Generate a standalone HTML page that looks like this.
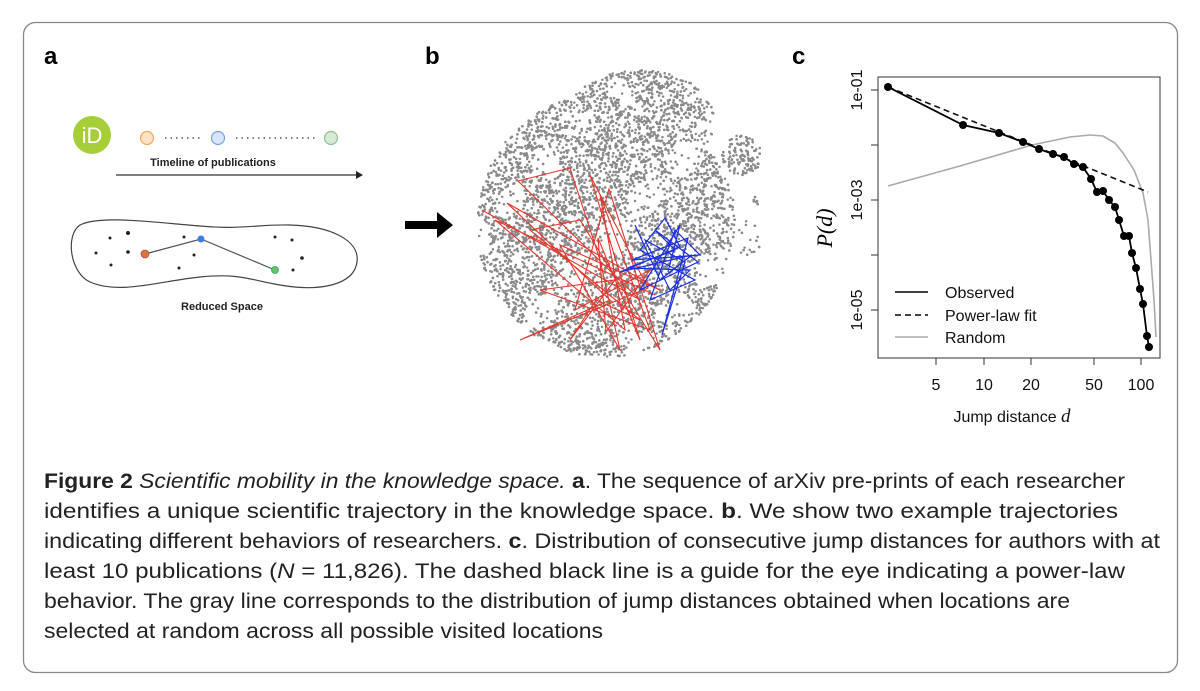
<!DOCTYPE html>
<html><head><meta charset="utf-8"><style>
html,body{margin:0;padding:0;background:#fff;}
svg{display:block;}
</style></head><body>
<svg id="s" width="1200" height="691" viewBox="0 0 1200 691" xmlns="http://www.w3.org/2000/svg" font-family="Liberation Sans, sans-serif">
<rect x="23.5" y="22.5" width="1154" height="650" rx="12" fill="#fff" stroke="#888" stroke-width="1.3"/>
<text x="44" y="64" font-size="24" font-weight="bold">a</text>
<text x="425" y="64" font-size="24" font-weight="bold">b</text>
<text x="792" y="64" font-size="24" font-weight="bold">c</text>

<!-- panel a -->
<circle cx="92" cy="135" r="19" fill="#a6ce39"/>
<text x="92" y="143" font-size="22" fill="#fff" text-anchor="middle">iD</text>
<circle cx="147" cy="138" r="6.5" fill="#fde2c4" stroke="#f0a860" stroke-width="1.2"/>
<circle cx="218" cy="138" r="6.5" fill="#d8e6fb" stroke="#7aa2e0" stroke-width="1.2"/>
<circle cx="331" cy="138" r="6.5" fill="#d6ead6" stroke="#8fc08f" stroke-width="1.2"/>
<line x1="165" y1="138" x2="202" y2="138" stroke="#555" stroke-width="1.6" stroke-dasharray="1.5,4"/>
<line x1="236" y1="138" x2="315" y2="138" stroke="#555" stroke-width="1.6" stroke-dasharray="1.5,4"/>
<text x="213" y="166" font-size="11" font-weight="bold" text-anchor="middle" fill="#222">Timeline of publications</text>
<line x1="116" y1="175" x2="358" y2="175" stroke="#333" stroke-width="1.3"/>
<path d="M356,171 L363,175 L356,179 Z" fill="#222"/>
<path d="M80,225 C100,215 150,222 200,226 C240,230 260,224 290,225 C330,226 360,240 357,262 C354,285 320,292 280,285 C250,280 240,273 200,277 C160,281 120,295 90,282 C70,273 65,235 80,225 Z" fill="none" stroke="#444" stroke-width="1.2"/>
<g fill="#222">
<circle cx="110" cy="238" r="1.5"/><circle cx="128" cy="233" r="2"/><circle cx="96" cy="253" r="1.5"/><circle cx="128" cy="252" r="1.8"/><circle cx="111" cy="265" r="1.5"/><circle cx="184" cy="237" r="1.5"/><circle cx="194" cy="255" r="1.5"/><circle cx="179" cy="268" r="1.5"/><circle cx="275" cy="237" r="1.5"/><circle cx="292" cy="240" r="1.5"/><circle cx="302" cy="258" r="1.8"/><circle cx="293" cy="270" r="1.5"/>
</g>
<polyline points="145,254 201,239 275,270" fill="none" stroke="#555" stroke-width="1.2"/>
<circle cx="145" cy="254" r="4" fill="#d9743a" stroke="#a55" stroke-width="0.8"/>
<circle cx="201" cy="239" r="3.5" fill="#3d7fe0"/>
<circle cx="275" cy="270" r="3.5" fill="#6cbf6c" stroke="#2a6" stroke-width="0.8"/>
<text x="222" y="310" font-size="11" font-weight="bold" text-anchor="middle" fill="#222">Reduced Space</text>

<!-- panel b -->
<path d="M405,221 H437 V212 L453,225 L437,238 V229 H405 Z" fill="#000"/>
<g id="dots" fill="#8a8a8a"></g>
<g id="red" fill="none" stroke="#e8352a" stroke-width="1.1"></g>
<g id="blue" fill="none" stroke="#1a2ee8" stroke-width="1.2"></g>

<!-- panel c -->
<rect x="878" y="77" width="282" height="281" fill="none" stroke="#333" stroke-width="1"/>
<g stroke="#333" stroke-width="1">
<line x1="871" y1="90" x2="878" y2="90"/><line x1="871" y1="145" x2="878" y2="145"/><line x1="871" y1="200" x2="878" y2="200"/><line x1="871" y1="255" x2="878" y2="255"/><line x1="871" y1="310" x2="878" y2="310"/>
<line x1="936" y1="358" x2="936" y2="365"/><line x1="984" y1="358" x2="984" y2="365"/><line x1="1031" y1="358" x2="1031" y2="365"/><line x1="1094" y1="358" x2="1094" y2="365"/><line x1="1141" y1="358" x2="1141" y2="365"/>
</g>
<g font-size="16" text-anchor="middle" fill="#111">
<text transform="translate(862,90) rotate(-90)">1e-01</text>
<text transform="translate(862,200) rotate(-90)">1e-03</text>
<text transform="translate(862,310) rotate(-90)">1e-05</text>
<text x="936" y="390">5</text><text x="984" y="390">10</text><text x="1031" y="390">20</text><text x="1094" y="390">50</text><text x="1141" y="390">100</text>
<text x="1012" y="422">Jump distance <tspan style="font-family:'Liberation Serif',serif;font-style:italic;font-size:19px">d</tspan></text>
</g>
<text transform="translate(832,228) rotate(-90)" style="font-family:'Liberation Serif',serif;font-style:italic;font-size:22px" text-anchor="middle">P(d)</text>
<polyline points="888,186 960,166 1032,145 1070,137 1090,135 1103,136 1115,143 1123,153 1134,170 1143,193 1148,220 1151,260 1154,300 1156,337" fill="none" stroke="#aaa" stroke-width="1.6"/>
<line x1="888" y1="87" x2="1148" y2="192" stroke="#111" stroke-width="1.6" stroke-dasharray="6,4"/>
<polyline id="obs" fill="none" stroke="#000" stroke-width="1.8" points="888,87 963,125 999,133 1023,142 1039,149 1053,154 1064,157 1074,164 1083,167 1091,179 1097,192 1103,191 1109,200 1115,207 1119,220 1124,236 1129,236 1132,253 1136,268 1140,289 1143,304 1147,336 1149,347"/>
<g id="obsd" fill="#000"></g>
<line x1="895" y1="292" x2="928" y2="292" stroke="#000" stroke-width="1.6"/>
<line x1="895" y1="315" x2="928" y2="315" stroke="#000" stroke-width="1.6" stroke-dasharray="6,4"/>
<line x1="895" y1="337" x2="928" y2="337" stroke="#aaa" stroke-width="1.6"/>
<g font-size="16" fill="#111">
<text x="945" y="298">Observed</text><text x="945" y="321">Power-law fit</text><text x="945" y="343">Random</text>
</g>

<!-- caption -->
<g font-size="21" fill="#222">
<text x="44" y="488" textLength="1081" lengthAdjust="spacingAndGlyphs"><tspan font-weight="bold">Figure 2</tspan>  <tspan font-style="italic">Scientific mobility in the knowledge space.</tspan> <tspan font-weight="bold">a</tspan>. The sequence of arXiv pre-prints of each researcher</text>
<text x="44" y="518" textLength="1074" lengthAdjust="spacingAndGlyphs">identifies a unique scientific trajectory in the knowledge space. <tspan font-weight="bold">b</tspan>. We show two example trajectories</text>
<text x="44" y="548" textLength="1116" lengthAdjust="spacingAndGlyphs">indicating different behaviors of researchers. <tspan font-weight="bold">c</tspan>. Distribution of consecutive jump distances for authors with at</text>
<text x="44" y="578" textLength="1081" lengthAdjust="spacingAndGlyphs">least 10 publications (<tspan font-style="italic">N</tspan> = 11,826). The dashed black line is a guide for the eye indicating a power-law</text>
<text x="44" y="608" textLength="1026" lengthAdjust="spacingAndGlyphs">behavior. The gray line corresponds to the distribution of jump distances obtained when locations are</text>
<text x="44" y="638" textLength="559" lengthAdjust="spacingAndGlyphs">selected at random across all possible visited locations</text>
</g>
</svg>
<script>
(function(){
var seed=12345;function r(){seed=(seed*1103515245+12345)%2147483648;return seed/2147483648;}
var g=document.getElementById("dots");var html="";
function inside(x,y){
 var dx=(x-605)/128,dy=(y-225)/132;
 if(dx*dx+dy*dy<1)return true;
 var ex=(x-640)/75,ey=(y-120)/50; if(ex*ex+ey*ey<1)return true;
 var fx=(x-660)/12,fy=(y-90)/18; if(fx*fx+fy*fy<1)return true;
 var hx=(x-690)/45,hy=(y-220)/70; if(hx*hx+hy*hy<1)return true;
 return false;}
for(var i=0;i<14000;i++){var x=470+r()*290,y=70+r()*295;
 var ok=inside(x,y);
 var s1=((x-742)*(x-742)+(y-155)*(y-155))<20*20, s2=((x-747)*(x-747)+(y-238)*(y-238))<17*17, s3=((x-758)*(x-758)+(y-200)*(y-200))<25;
 if(!(ok||s1||s2||s3))continue;
 var c=Math.sin(x*0.09)*Math.cos(y*0.08)+Math.sin((x+y)*0.05);
 if(c<-0.9&&r()<0.8)continue;
 html+='<circle cx="'+x.toFixed(1)+'" cy="'+y.toFixed(1)+'" r="1.25"/>';}
g.innerHTML=html;
var red=document.getElementById("red");
var rp=[[482,210],[640,300],[518,181],[570,168],[600,260],[620,350],[560,245],[660,290],[507,203],[610,300],[520,340],[648,288],[590,175],[640,340],[598,238],[606,332],[650,270],[575,310],[609,189],[660,350],[580,220],[530,230],[640,320],[596,300],[570,340],[615,280],[540,290],[650,330],[600,195],[625,330],[495,220],[655,295]];
red.innerHTML='<polyline points="'+rp.map(function(p){return p.join(",")}).join(" ")+'"/>';
var bp=[[635,225],[660,280],[692,255],[620,272],[680,247],[665,218],[640,250],[695,280],[650,300],[675,230],[700,255],[632,260],[688,238],[662,335],[685,262],[645,240],[670,290],[690,270],[628,268],[675,250],[655,230],[698,262],[640,290],[680,225],[668,272]];
document.getElementById("blue").innerHTML='<polyline points="'+bp.map(function(p){return p.join(",")}).join(" ")+'"/>';
var o=document.getElementById("obs").getAttribute("points").trim().split(/\s+/),d="";
o.forEach(function(p){var a=p.split(",");d+='<circle cx="'+a[0]+'" cy="'+a[1]+'" r="4"/>';});
document.getElementById("obsd").innerHTML=d;
})();
</script>
</body></html>
